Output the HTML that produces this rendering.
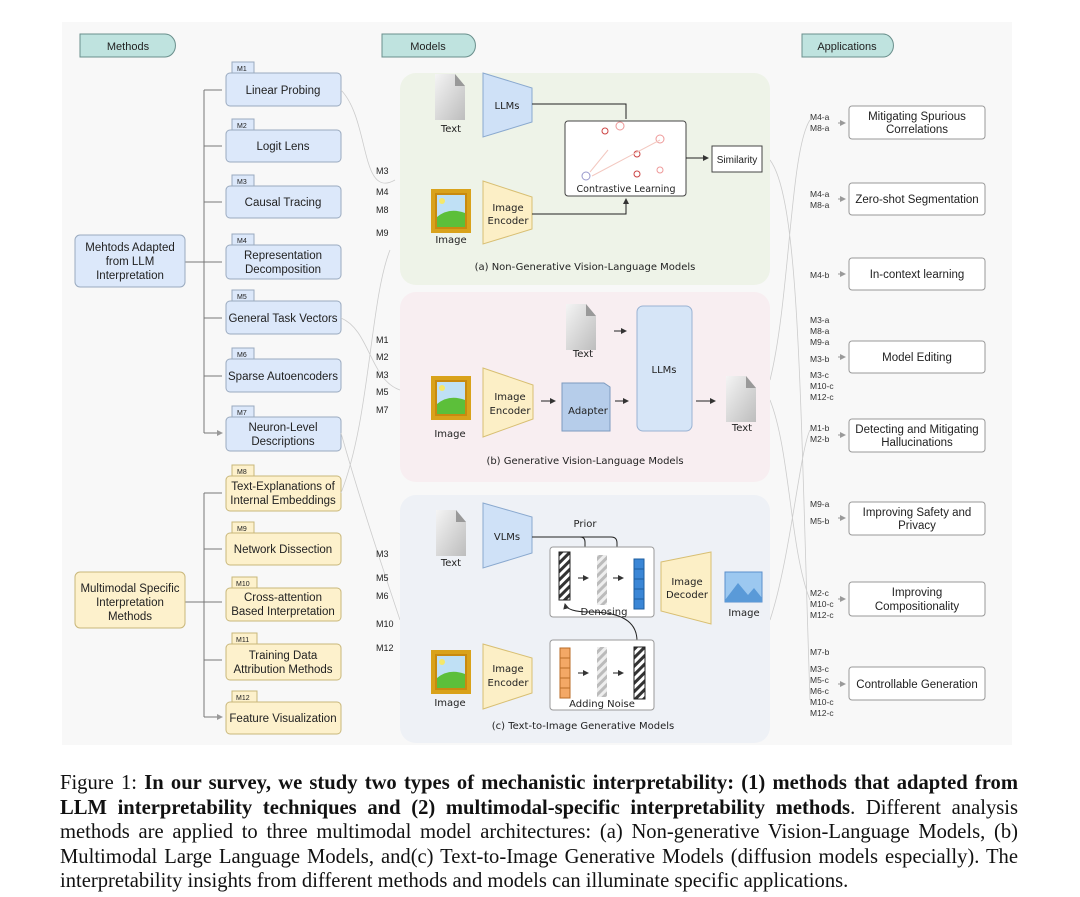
<!DOCTYPE html>
<html><head><meta charset="utf-8"><style>
body{margin:0;background:#fff;width:1080px;height:897px;overflow:hidden;font-family:"Liberation Sans",sans-serif;}
svg{position:absolute;left:0;top:0}
.cap{position:absolute;left:60px;width:958px;font-family:"Liberation Serif",serif;font-size:20.6px;color:#111;}
.cap div{height:24.5px;line-height:24.5px;text-align:justify;text-align-last:justify;white-space:nowrap;}
.cap div.l{text-align-last:left}
</style></head><body>
<svg width="1080" height="760" viewBox="0 0 1080 760" font-family="Liberation Sans, sans-serif">
<defs>
<marker id="a" markerWidth="6" markerHeight="6" refX="5" refY="3" orient="auto"><path d="M0,0L6,3L0,6z" fill="#333"/></marker>
<marker id="g" markerWidth="6" markerHeight="6" refX="5" refY="3" orient="auto"><path d="M0,0L6,3L0,6z" fill="#999"/></marker>
<linearGradient id="doc" x1="0" y1="0" x2="1" y2="1"><stop offset="0" stop-color="#f4f4f4"/><stop offset="1" stop-color="#bdbdbd"/></linearGradient>
<pattern id="hat" width="6" height="6" patternUnits="userSpaceOnUse" patternTransform="rotate(45)"><rect width="6" height="6" fill="#fff"/><rect width="3" height="6" fill="#333"/></pattern>
<pattern id="hatg" width="6" height="6" patternUnits="userSpaceOnUse" patternTransform="rotate(45)"><rect width="6" height="6" fill="#eee"/><rect width="3" height="6" fill="#bbb"/></pattern>
<g id="pic"><rect x="0" y="0" width="40" height="44" fill="#d9a21b"/><rect x="4" y="4" width="32" height="36" fill="#c88a10"/><rect x="6" y="6" width="28" height="32" fill="#bfe0f5"/><path d="M6,28Q18,18 34,24V38H6z" fill="#5cbf3a"/><circle cx="11" cy="12" r="3" fill="#f5e86a"/></g>
<g id="doci"><path d="M0,0H20L30,12V46H0z" fill="url(#doc)"/><path d="M20,0V12H30" fill="#999"/></g>
</defs>
<rect x="62" y="22" width="950" height="723" fill="#f8f8f8"/>
<g font-size="11" fill="#222" text-anchor="middle">
<path d="M80,34H165A10,11 0 0 1 165,57H80z" fill="#bfe3df" stroke="#6a8f8c"/><text x="128" y="50">Methods</text>
<path d="M382,34H465A10,11 0 0 1 465,57H382z" fill="#bfe3df" stroke="#6a8f8c"/><text x="428" y="50">Models</text>
<path d="M802,34H883A10,11 0 0 1 883,57H802z" fill="#bfe3df" stroke="#6a8f8c"/><text x="847" y="50">Applications</text>
</g>
<g stroke="#777" fill="none" stroke-width="1">
<path d="M204,90V433M185,262H222"/>
<path d="M204,90H222M204,146H222M204,202H222M204,318H222M204,376H222M204,433H222" marker-end="url(#g)"/>
<path d="M204,493V717M185,602H222M204,493H222M204,549H222M204,660H222M204,717H222" marker-end="url(#g)"/>
</g>
<g font-size="11.5" fill="#222" text-anchor="middle">
<rect x="75" y="235" width="110" height="52" rx="5" fill="#dce8fa" stroke="#9aaabf"/>
<text x="130" y="251">Mehtods Adapted</text><text x="130" y="265">from LLM</text><text x="130" y="279">Interpretation</text>
<rect x="75" y="572" width="110" height="56" rx="5" fill="#fdf1cc" stroke="#c9b77a"/>
<text x="130" y="592">Multimodal Specific</text><text x="130" y="606">Interpretation</text><text x="130" y="620">Methods</text>
</g>
<g font-size="11.5" fill="#222" text-anchor="middle">
<g fill="#dce8fa" stroke="#9aaabf">
<rect x="226" y="73" width="115" height="33" rx="4"/><rect x="226" y="130" width="115" height="32" rx="4"/><rect x="226" y="186" width="115" height="32" rx="4"/><rect x="226" y="245" width="115" height="34" rx="4"/><rect x="226" y="301" width="115" height="33" rx="4"/><rect x="226" y="359" width="115" height="33" rx="4"/><rect x="226" y="417" width="115" height="34" rx="4"/>
<rect x="232" y="62" width="22" height="11"/><rect x="232" y="119" width="22" height="11"/><rect x="232" y="175" width="22" height="11"/><rect x="232" y="234" width="22" height="11"/><rect x="232" y="290" width="22" height="11"/><rect x="232" y="348" width="22" height="11"/><rect x="232" y="406" width="22" height="11"/>
</g>
<g fill="#fdf1cc" stroke="#c9b77a">
<rect x="226" y="476" width="115" height="35" rx="4"/><rect x="226" y="533" width="115" height="32" rx="4"/><rect x="226" y="588" width="115" height="33" rx="4"/><rect x="226" y="644" width="115" height="36" rx="4"/><rect x="226" y="702" width="115" height="32" rx="4"/>
<rect x="232" y="465" width="22" height="11"/><rect x="232" y="522" width="22" height="11"/><rect x="232" y="577" width="25" height="11"/><rect x="232" y="633" width="25" height="11"/><rect x="232" y="691" width="25" height="11"/>
</g>
<g font-size="7" text-anchor="start"><text x="237" y="71">M1</text><text x="237" y="128">M2</text><text x="237" y="184">M3</text><text x="237" y="243">M4</text><text x="237" y="299">M5</text><text x="237" y="357">M6</text><text x="237" y="415">M7</text><text x="237" y="474">M8</text><text x="237" y="531">M9</text><text x="236" y="586">M10</text><text x="236" y="642">M11</text><text x="236" y="700">M12</text></g>
<text x="283" y="94">Linear Probing</text><text x="283" y="150">Logit Lens</text><text x="283" y="206">Causal Tracing</text>
<text x="283" y="259">Representation</text><text x="283" y="273">Decomposition</text>
<text x="283" y="322">General Task Vectors</text><text x="283" y="380">Sparse Autoencoders</text>
<text x="283" y="431">Neuron-Level</text><text x="283" y="445">Descriptions</text>
<text x="283" y="490">Text-Explanations of</text><text x="283" y="504">Internal Embeddings</text>
<text x="283" y="553">Network Dissection</text>
<text x="283" y="601">Cross-attention</text><text x="283" y="615">Based Interpretation</text>
<text x="283" y="659">Training Data</text><text x="283" y="673">Attribution Methods</text>
<text x="283" y="722">Feature Visualization</text>
</g>
<g stroke="#ccc" fill="none" stroke-width="0.8">
<path d="M341,90C370,120 360,200 395,180M341,318C370,330 370,380 400,390M341,433C360,500 380,560 400,620M341,493C370,420 370,300 390,250"/>
<path d="M770,160C800,200 800,400 810,700M770,380C790,300 790,150 810,120M770,400C790,450 790,550 810,600M770,620C790,560 800,450 810,430"/>
</g>
<g font-size="9" fill="#222">
<text x="376" y="174">M3</text><text x="376" y="195">M4</text><text x="376" y="213">M8</text><text x="376" y="236">M9</text>
<text x="376" y="343">M1</text><text x="376" y="360">M2</text><text x="376" y="378">M3</text><text x="376" y="395">M5</text><text x="376" y="413">M7</text>
<text x="376" y="557">M3</text><text x="376" y="581">M5</text><text x="376" y="599">M6</text><text x="376" y="627">M10</text><text x="376" y="651">M12</text>
</g>
<rect x="400" y="73" width="370" height="212" rx="16" fill="#eef3e8"/>
<rect x="400" y="292" width="370" height="190" rx="16" fill="#f8eef1"/>
<rect x="400" y="495" width="370" height="248" rx="16" fill="#eef1f6"/>
<g font-family="DejaVu Sans, sans-serif" font-size="10" fill="#222" text-anchor="middle">
<use href="#doci" x="435" y="74"/><text x="451" y="132">Text</text>
<path d="M483,73L532,88V122L483,137z" fill="#cfe1f7" stroke="#8aa9cf"/><text x="507" y="109">LLMs</text>
<use href="#pic" x="431" y="189"/><text x="451" y="243">Image</text>
<path d="M483,181L532,197V229L483,244z" fill="#fcefc6" stroke="#d8bf73"/><text x="508" y="211">Image</text><text x="508" y="224">Encoder</text>
<rect x="565" y="121" width="121" height="75" rx="3" fill="#fff" stroke="#444"/>
<path d="M532,104H626V119M532,214H626V199" stroke="#222" fill="none" marker-end="url(#a)"/>
<circle cx="605" cy="131" r="3" fill="none" stroke="#c44"/><circle cx="620" cy="126" r="4" fill="none" stroke="#e99"/><circle cx="637" cy="154" r="3" fill="none" stroke="#c44"/><circle cx="660" cy="139" r="4" fill="none" stroke="#e99"/><circle cx="637" cy="174" r="3" fill="none" stroke="#c44"/><circle cx="660" cy="170" r="3" fill="none" stroke="#e99"/><circle cx="586" cy="176" r="4" fill="none" stroke="#99c"/>
<path d="M590,172L608,150M592,176L660,140" stroke="#f3c8c0"/>
<text x="626" y="192" font-size="9.5">Contrastive Learning</text>
<path d="M686,158H708" stroke="#222" marker-end="url(#a)"/>
<rect x="712" y="146" width="50" height="26" fill="#fff" stroke="#444"/><text x="737" y="163" font-family="Liberation Sans, sans-serif">Similarity</text>
<text x="585" y="270">(a) Non-Generative Vision-Language Models</text>
<use href="#doci" x="566" y="304"/><text x="583" y="357">Text</text>
<path d="M614,331H626" stroke="#222" marker-end="url(#a)"/>
<rect x="637" y="306" width="55" height="125" rx="6" fill="#d6e5f7" stroke="#9ab2d3"/><text x="664" y="373">LLMs</text>
<use href="#pic" x="431" y="376"/><text x="450" y="437">Image</text>
<path d="M483,368L533,385V419L483,437z" fill="#fcefc6" stroke="#d8bf73"/><text x="510" y="400">Image</text><text x="510" y="414">Encoder</text>
<g stroke="#222" marker-end="url(#a)"><path d="M541,401H555"/><path d="M615,401H628"/><path d="M696,401H715"/></g>
<path d="M562,383h42l6,4v44h-48z" fill="#b6cdea" stroke="#7d9bc0"/><text x="588" y="414">Adapter</text>
<use href="#doci" x="726" y="376"/><text x="742" y="431">Text</text>
<text x="585" y="464">(b) Generative Vision-Language Models</text>
<use href="#doci" x="436" y="510"/><text x="451" y="566">Text</text>
<path d="M483,503L532,517V553L483,568z" fill="#cfe1f7" stroke="#8aa9cf"/><text x="507" y="540">VLMs</text>
<text x="585" y="527">Prior</text>
<g stroke="#222" fill="none" marker-end="url(#a)"><path d="M532,537H580Q585,537 585,542V570"/><path d="M580,537H611Q617,537 617,543V570"/></g>
<rect x="550" y="547" width="104" height="70" rx="3" fill="#fff" stroke="#999"/>
<rect x="559" y="552" width="11" height="48" fill="url(#hat)" stroke="#222"/>
<rect x="597" y="555" width="10" height="50" fill="url(#hatg)"/>
<rect x="634" y="559" width="10" height="50" fill="#3a86d6" stroke="#1e5e9f"/>
<path d="M634,569h10M634,579h10M634,589h10M634,599h10" stroke="#1e5e9f"/>
<g stroke="#222" marker-end="url(#a)"><path d="M578,578h10"/><path d="M613,578h10"/></g>
<text x="604" y="615">Denosing</text>
<path d="M661,562L711,552V624L661,611z" fill="#fcefc6" stroke="#d8bf73"/><text x="687" y="585">Image</text><text x="687" y="598">Decoder</text>
<rect x="725" y="572" width="37" height="30" fill="#9cc8f0" stroke="#5a8fcc"/><path d="M725,600L738,583L748,595L754,588L762,598V602H725z" fill="#5a9ad8"/>
<text x="744" y="616">Image</text>
<path d="M637,641Q637,612 590,612Q567,612 565,604" stroke="#222" fill="none" marker-end="url(#a)"/>
<rect x="550" y="640" width="104" height="70" rx="3" fill="#fff" stroke="#999"/>
<rect x="560" y="648" width="10" height="50" fill="#f3a866" stroke="#b86b26"/><path d="M560,658h10M560,668h10M560,678h10M560,688h10" stroke="#b86b26"/>
<rect x="597" y="647" width="10" height="50" fill="url(#hatg)"/>
<rect x="634" y="647" width="11" height="52" fill="url(#hat)" stroke="#222"/>
<g stroke="#222" marker-end="url(#a)"><path d="M578,673h10"/><path d="M613,673h10"/></g>
<text x="602" y="707">Adding Noise</text>
<use href="#pic" x="431" y="650"/><text x="450" y="706">Image</text>
<path d="M483,644L532,658V693L483,709z" fill="#fcefc6" stroke="#d8bf73"/><text x="508" y="672">Image</text><text x="508" y="686">Encoder</text>
<text x="583" y="729">(c) Text-to-Image Generative Models</text>
</g>
<g font-size="11.5" fill="#222" text-anchor="middle">
<g fill="#fff" stroke="#999">
<rect x="849" y="106" width="136" height="33" rx="3"/><rect x="849" y="183" width="136" height="32" rx="3"/><rect x="849" y="258" width="136" height="32" rx="3"/><rect x="849" y="341" width="136" height="32" rx="3"/><rect x="849" y="419" width="136" height="33" rx="3"/><rect x="849" y="502" width="136" height="33" rx="3"/><rect x="849" y="582" width="136" height="34" rx="3"/><rect x="849" y="667" width="136" height="33" rx="3"/>
</g>
<text x="917" y="120">Mitigating Spurious</text><text x="917" y="133">Correlations</text>
<text x="917" y="203">Zero-shot Segmentation</text>
<text x="917" y="278">In-context learning</text>
<text x="917" y="361">Model Editing</text>
<text x="917" y="433">Detecting and Mitigating</text><text x="917" y="446">Hallucinations</text>
<text x="917" y="516">Improving Safety and</text><text x="917" y="529">Privacy</text>
<text x="917" y="596">Improving</text><text x="917" y="610">Compositionality</text>
<text x="917" y="688">Controllable Generation</text>
</g>
<g stroke="#999" marker-end="url(#g)"><path d="M838,123H845"/><path d="M838,199H845"/><path d="M838,274H845"/><path d="M838,357H845"/><path d="M838,435H845"/><path d="M838,518H845"/><path d="M838,599H845"/><path d="M838,684H845"/></g>
<g font-size="8.5" fill="#333">
<text x="810" y="120">M4-a</text><text x="810" y="131">M8-a</text>
<text x="810" y="197">M4-a</text><text x="810" y="208">M8-a</text>
<text x="810" y="278">M4-b</text>
<text x="810" y="323">M3-a</text><text x="810" y="334">M8-a</text><text x="810" y="345">M9-a</text><text x="810" y="362">M3-b</text><text x="810" y="378">M3-c</text><text x="810" y="389">M10-c</text><text x="810" y="400">M12-c</text>
<text x="810" y="431">M1-b</text><text x="810" y="442">M2-b</text>
<text x="810" y="507">M9-a</text><text x="810" y="524">M5-b</text>
<text x="810" y="596">M2-c</text><text x="810" y="607">M10-c</text><text x="810" y="618">M12-c</text>
<text x="810" y="655">M7-b</text><text x="810" y="672">M3-c</text><text x="810" y="683">M5-c</text><text x="810" y="694">M6-c</text><text x="810" y="705">M10-c</text><text x="810" y="716">M12-c</text>
</g>
</svg>
<div class="cap" style="top:771px">
<div>Figure 1: <b>In our survey, we study two types of mechanistic interpretability: (1) methods that adapted from</b></div>
<div><b>LLM interpretability techniques and (2) multimodal-specific interpretability methods</b>. Different analysis</div>
<div>methods are applied to three multimodal model architectures: (a) Non-generative Vision-Language Models, (b)</div>
<div>Multimodal Large Language Models, and(c) Text-to-Image Generative Models (diffusion models especially). The</div>
<div class="l">interpretability insights from different methods and models can illuminate specific applications.</div>
</div>
</body></html>
